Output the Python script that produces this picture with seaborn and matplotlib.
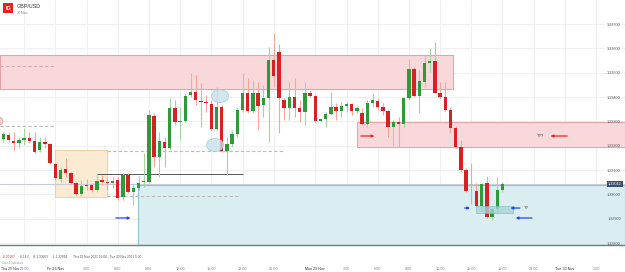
import numpy as np
import pandas as pd
import matplotlib
matplotlib.use("Agg")
import matplotlib.pyplot as plt
import matplotlib.transforms as mtransforms
from matplotlib.patches import Rectangle, Ellipse
import seaborn as sns

# 30 min candles, GBP/USD, Thu 25 Nov -> Tue 30 Nov 2021
opens = [1.33227, 1.33244, 1.33219, 1.33211, 1.33223, 1.33231, 1.33219, 1.33182, 1.33215, 1.33207,
         1.33125, 1.33063, 1.33104, 1.33088, 1.33047, 1.33001, 1.33038, 1.33038, 1.33018, 1.33059,
         1.33048, 1.33047, 1.33059, 1.32989, 1.33079, 1.33010, 1.33026, 1.33050, 1.33051, 1.33322,
         1.33153, 1.33215, 1.33190, 1.33355, 1.33299, 1.33301, 1.33408, 1.33421, 1.33384, 1.33379,
         1.33371, 1.33268, 1.33359, 1.33178, 1.33207, 1.33248, 1.33347, 1.33416, 1.33342, 1.33416,
         1.33367, 1.33396, 1.33552, 1.33585, 1.33388, 1.33355, 1.33400, 1.33355, 1.33338, 1.33416,
         1.33404, 1.33301, 1.33310, 1.33330, 1.33359, 1.33342, 1.33363, 1.33371, 1.33342, 1.33334,
         1.33289, 1.33375, 1.33384, 1.33359, 1.33342, 1.33277, 1.33297, 1.33289, 1.33396, 1.33515,
         1.33404, 1.33462, 1.33540, 1.33548, 1.33416, 1.33400, 1.33347, 1.33273, 1.33194, 1.33100,
         1.33014, 1.33014, 1.32952, 1.33047, 1.32907, 1.32940, 1.33018]
highs = [1.33256, 1.33256, 1.33256, 1.33236, 1.33273, 1.33256, 1.33256, 1.33236, 1.33236, 1.33211,
         1.33129, 1.33112, 1.33149, 1.33092, 1.33051, 1.33059, 1.33063, 1.33047, 1.33079, 1.33079,
         1.33063, 1.33071, 1.33071, 1.33088, 1.33088, 1.33047, 1.33075, 1.33170, 1.33347, 1.33334,
         1.33256, 1.33236, 1.33396, 1.33388, 1.33359, 1.33416, 1.33499, 1.33490, 1.33458, 1.33408,
         1.33388, 1.33441, 1.33367, 1.33236, 1.33264, 1.33359, 1.33499, 1.33478, 1.33470, 1.33462,
         1.33449, 1.33605, 1.33663, 1.33618, 1.33396, 1.33462, 1.33478, 1.33388, 1.33462, 1.33429,
         1.33408, 1.33310, 1.33338, 1.33421, 1.33375, 1.33379, 1.33379, 1.33375, 1.33367, 1.33355,
         1.33388, 1.33416, 1.33396, 1.33375, 1.33347, 1.33305, 1.33318, 1.33400, 1.33556, 1.33523,
         1.33511, 1.33573, 1.33601, 1.33626, 1.33462, 1.33462, 1.33359, 1.33281, 1.33223, 1.33108,
         1.33129, 1.33047, 1.33047, 1.33075, 1.32948, 1.33071, 1.33051]
lows = [1.33215, 1.33215, 1.33182, 1.33190, 1.33203, 1.33211, 1.33170, 1.33174, 1.33190, 1.33125,
        1.33059, 1.33051, 1.33071, 1.33042, 1.32997, 1.32993, 1.33018, 1.33010, 1.33010, 1.33038,
        1.33018, 1.33026, 1.32977, 1.32977, 1.33005, 1.32956, 1.33018, 1.33030, 1.33047, 1.33112,
        1.33071, 1.33112, 1.33182, 1.33285, 1.33223, 1.33297, 1.33400, 1.33367, 1.33277, 1.33338,
        1.33264, 1.33264, 1.33174, 1.33079, 1.33194, 1.33236, 1.33338, 1.33334, 1.33334, 1.33264,
        1.33318, 1.33215, 1.33441, 1.33252, 1.33305, 1.33305, 1.33318, 1.33297, 1.33285, 1.33400,
        1.33297, 1.33297, 1.33277, 1.33326, 1.33305, 1.33318, 1.33338, 1.33326, 1.33334, 1.33285,
        1.33277, 1.33359, 1.33347, 1.33326, 1.33236, 1.33199, 1.33194, 1.33277, 1.33388, 1.33400,
        1.33334, 1.33441, 1.33503, 1.33416, 1.33396, 1.33342, 1.33252, 1.33190, 1.33092, 1.33010,
        1.32960, 1.32948, 1.32927, 1.32903, 1.32894, 1.32923, 1.33010]
closes = [1.33248, 1.33223, 1.33211, 1.33223, 1.33231, 1.33219, 1.33174, 1.33215, 1.33207, 1.33129,
          1.33067, 1.33100, 1.33088, 1.33047, 1.33001, 1.33034, 1.33036, 1.33018, 1.33055, 1.33051,
          1.33046, 1.33055, 1.32985, 1.33079, 1.33010, 1.33026, 1.33047, 1.33052, 1.33326, 1.33153,
          1.33219, 1.33190, 1.33355, 1.33297, 1.33303, 1.33404, 1.33421, 1.33388, 1.33379, 1.33375,
          1.33268, 1.33359, 1.33178, 1.33207, 1.33248, 1.33347, 1.33416, 1.33342, 1.33416, 1.33363,
          1.33396, 1.33552, 1.33486, 1.33396, 1.33355, 1.33400, 1.33355, 1.33338, 1.33416, 1.33404,
          1.33301, 1.33310, 1.33330, 1.33359, 1.33342, 1.33363, 1.33371, 1.33342, 1.33355, 1.33289,
          1.33375, 1.33388, 1.33359, 1.33342, 1.33277, 1.33297, 1.33289, 1.33396, 1.33515, 1.33404,
          1.33466, 1.33540, 1.33548, 1.33416, 1.33400, 1.33347, 1.33273, 1.33194, 1.33100, 1.33014,
          1.33012, 1.32952, 1.33042, 1.32907, 1.32940, 1.33018, 1.33042]

tick_pos = [4, 10, 16, 22, 28, 34, 40, 46, 52, 60, 66, 72, 78, 84, 90, 96, 102, 108, 114]
tick_labels = ['21:00', 'Fri 26 Nov', '3:00', '6:00', '9:00', '12:00', '15:00', '18:00', '21:00',
               'Mon 29 Nov', '3:00', '6:00', '9:00', '12:00', '15:00', '18:00', '21:00',
               'Tue 30 Nov', '3:00']
first_day = 'Thu 25 Nov'
price_ticks = [1.328, 1.329, 1.330, 1.331, 1.332, 1.333, 1.334, 1.335, 1.336, 1.337]
last_price = 1.33042

# drawn zones: (x0, x1, y0, y1)
supply_top = (-0.64, 86.5, 1.33433, 1.33573)
supply_mid = (68.0, 119.6, 1.33194, 1.33297)
range_box = (9.94, 19.94, 1.32989, 1.33182)
demand_zone = (25.9, 119.6, 1.32792, 1.33038)

sns.set_theme(style="white")
plt.rcParams['font.family'] = ['Liberation Sans', 'DejaVu Sans']

df = pd.DataFrame({'open': opens, 'high': highs, 'low': lows, 'close': closes})
df['x'] = np.arange(len(df))
up = df['close'] >= df['open']

fig = plt.figure(figsize=(6.25, 2.72), dpi=100)
ax = fig.add_axes([0, 27 / 272, 1, 245 / 272])
ax.set_xlim(-0.64, 119.56)
ax.set_ylim(1.32792, 1.33799)

# grid
ax.set_yticks(price_ticks)
ax.grid(True, axis='y', color='#eeeeee', lw=0.6)
ax.vlines(tick_pos, 1.32792, 1.33799, color='#eeeeee', lw=0.6, zorder=0)

# zones
def zone(b, fc, ec, lw=0.8, z=1):
    ax.add_patch(Rectangle((b[0], b[2]), b[1] - b[0], b[3] - b[2], fc=fc, ec=ec, lw=lw, zorder=z))

zone(supply_top, '#f9d8db', '#e7a3a8')
zone(supply_mid, '#f9d8db', '#e7a3a8')
zone(range_box, '#fcebd3', '#efd2a6')
zone(demand_zone, '#daedf1', '#8ec5cc')

ax.axhline(last_price, color='#c9cbd8', lw=0.8, zorder=1.5)

# dashed / solid levels
ax.hlines(1.33527, -0.64, 9.94, color='#d6aeb2', lw=0.8, linestyles=(0, (3, 2)), zorder=1.6)
ax.hlines(1.33281, -0.64, 9.94, color='#bbbbbb', lw=0.8, linestyles=(0, (3, 2)), zorder=1.6)
ax.hlines(1.33178, 19.94, 53.8, color='#bbbbbb', lw=0.8, linestyles=(0, (3, 2)), zorder=1.6)
ax.hlines(1.32993, 19.94, 45.5, color='#bbbbbb', lw=0.8, linestyles=(0, (3, 2)), zorder=1.6)
ax.hlines(1.33084, 18.0, 46.1, color='#555555', lw=0.7, zorder=1.6)

# candles
green, red = '#2f9a3a', '#d62222'
wick_c = np.where(up, '#a5d3a5', '#f0a898')
ax.vlines(df['x'], df['low'], df['high'], colors=wick_c, lw=0.8, zorder=2)
body_lo = np.minimum(df['open'], df['close'])
body_h = np.maximum((df['close'] - df['open']).abs(), 0.00003)
ax.bar(df['x'], body_h, bottom=body_lo, width=0.68, color=np.where(up, green, red), zorder=3, lw=0)

# circles
for cx, cy in [(41.7, 1.33404), (40.7, 1.33203)]:
    ax.add_patch(Ellipse((cx, cy), 3.3, 0.00053, fc='#c9e1ea', ec='#a6c9d5', lw=0.6, alpha=0.8, zorder=4))
ax.add_patch(Ellipse((-0.9, 1.33301), 1.6, 0.00033, fc='#f7d3d6', ec='#e49aa0', lw=0.6, zorder=4))

# arrows
def arrow(x0, x1, y, c):
    ax.annotate('', xy=(x1, y), xytext=(x0, y),
                arrowprops=dict(arrowstyle='-|>', color=c, lw=0.9, mutation_scale=3.5), zorder=5)

blue, red_a = '#2447e2', '#e8291f'
arrow(21.1, 25.0, 1.32903, blue)
arrow(68.2, 71.9, 1.33240, red_a)
arrow(109.0, 104.7, 1.33240, red_a)
arrow(88.2, 90.3, 1.32944, blue)
arrow(99.9, 97.0, 1.32944, blue)
arrow(102.2, 98.0, 1.32903, blue)
ax.text(103.2, 1.33240, '???', fontsize=3.2, color='#333333', ha='center', va='center', zorder=5)
ax.text(100.6, 1.32944, '??', fontsize=3.2, color='#333333', ha='center', va='center', zorder=5)
ax.add_patch(Rectangle((90.9, 1.32923), 7.1, 0.00029, fc='#a7d3d9', ec='#79b9c1', lw=0.5, alpha=0.8, zorder=4))

# axes styling
for s in ['top', 'left', 'right']:
    ax.spines[s].set_visible(False)
ax.spines['bottom'].set_color('#6b7f82')
ax.spines['bottom'].set_linewidth(1.0)

ax.set_xticks(tick_pos)
ax.set_xticklabels(tick_labels)
ax.tick_params(axis='x', length=0, pad=15.5, labelsize=2.7, labelcolor='#888888')
for t in ax.get_xticklabels():
    if 'Nov' in t.get_text():
        t.set_color('#333333')
ax.tick_params(axis='y', left=False, labelleft=False)
ax.text(0.002, -24 / 245, first_day, transform=ax.transAxes, fontsize=2.5, color='#333333',
        ha='left', va='center')

# price scale on a twin axis so the labels sit above the zones
ax2 = ax.twinx()
ax2.set_ylim(ax.get_ylim())
ax2.grid(False)
for s in ax2.spines.values():
    s.set_visible(False)
ax2.set_yticks(price_ticks)
ax2.set_yticklabels([f'{p:.5f}' for p in price_ticks])
ax2.tick_params(axis='y', length=0, pad=-3, labelsize=2.7, labelcolor='#555555')
for t in ax2.get_yticklabels():
    t.set_horizontalalignment('right')
ax2.text(0.995, last_price, f'{last_price:.5f}', transform=ax2.get_yaxis_transform(), ha='right',
         va='center', fontsize=2.7, color='white', zorder=6,
         bbox=dict(boxstyle='square,pad=0.35', fc='#3d4f6e', ec='none'))

# header
fig.patches.append(Rectangle((3 / 625, 1 - 13 / 272), 10 / 625, 10 / 272,
                             transform=fig.transFigure, fc='#e0241b', ec='none'))
fig.text(8 / 625, 1 - 8 / 272, 'IG', color='white', fontsize=4, fontweight='bold',
         ha='center', va='center')
fig.text(17 / 625, 1 - 6.5 / 272, 'GBP/USD', color='#333333', fontsize=3.9, va='center')
fig.text(17 / 625, 1 - 12.5 / 272, '30 Mins', color='#888888', fontsize=2.2, va='center')

# footer info
yinfo = 1 - 257 / 272
fig.text(3 / 625, yinfo, '-0.00187', color='#e03030', fontsize=2.3, va='center')
fig.text(20 / 625, yinfo, '-0.14%', color='#e03030', fontsize=2.3, va='center')
fig.text(33 / 625, yinfo, 'H 1.33663', color='#555555', fontsize=2.3, va='center')
fig.text(53 / 625, yinfo, 'L 1.32894', color='#555555', fontsize=2.3, va='center')
fig.text(73 / 625, yinfo, 'Thu 25 Nov 2021 16:00 - Tue 30 Nov 2021 5:30', color='#555555',
         fontsize=2.3, va='center')
fig.text(2 / 625, 1 - 263 / 272, 'Data & Indicators', color='#999999', fontsize=2.0, va='center')

fig.savefig('out.png', dpi=100)
